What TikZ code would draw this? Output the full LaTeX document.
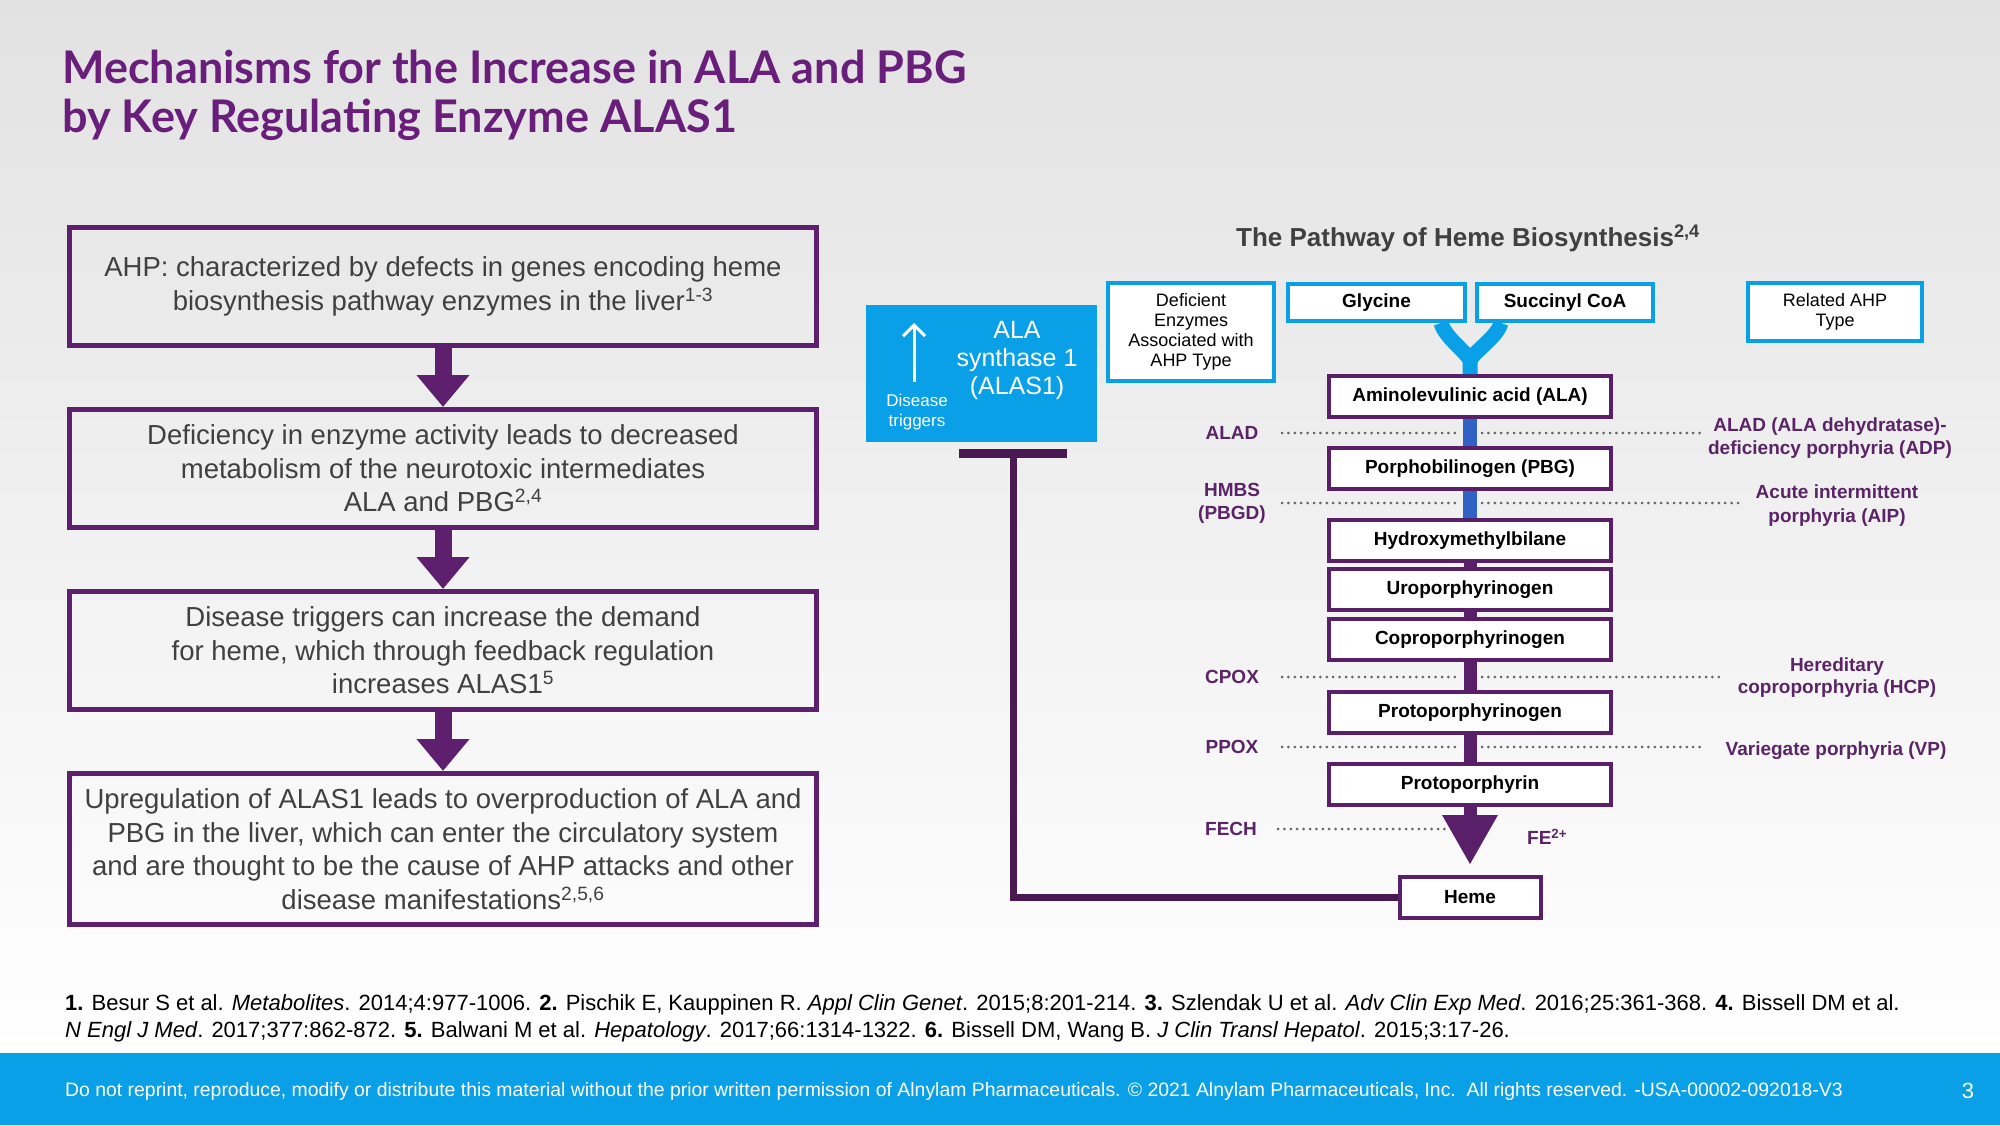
\documentclass[tikz,border=0pt]{standalone}
\usepackage{fontspec}
\setmainfont{Liberation Sans}
\newfontfamily\latofont{Lato}
\usepackage{tikz}
\usetikzlibrary{
  arrows.meta,
  positioning,
  calc
}
\definecolor{hmPurple}{HTML}{5E1F6E}
\definecolor{hmTitle}{HTML}{6A1E7C}
\definecolor{hmLabel}{HTML}{5B2467}
\definecolor{hmBox}{HTML}{5A1F69}
\definecolor{hmDark}{HTML}{4A1852}
\definecolor{hmBlue}{HTML}{0AA0E8}
\definecolor{hmLink}{HTML}{2F62C4}
\definecolor{hmText}{HTML}{404040}
\definecolor{hmDot}{HTML}{666666}
\definecolor{hmBgTop}{HTML}{E2E2E2}
\tikzset{
  titletext/.style={text=hmTitle, font=\latofont\bfseries\fontsize{45}{49}\selectfont, align=left, inner sep=0pt},
  ahpbox/.style={
    draw=hmPurple, line width=5pt, minimum width=747pt, minimum height=118pt,
    align=center, text=hmText, font=\fontsize{27.5}{33.5}\selectfont, inner sep=0pt
  },
  flowarrow/.style={-{Triangle[length=32pt,width=51pt]}, line width=17pt, hmPurple},
  pathbox/.style={
    draw=hmBox, line width=4pt, fill=white, minimum width=282pt, minimum height=41pt,
    font=\bfseries\fontsize{19}{22}\selectfont, inner sep=0pt
  },
  bluebox/.style={draw=hmBlue, line width=4pt, fill=white, align=center, font=\fontsize{18}{20}\selectfont, inner sep=0pt},
  enzlabel/.style={text=hmLabel, font=\bfseries\fontsize{19}{23}\selectfont, align=center, inner sep=0pt},
  typelabel/.style={enzlabel, font=\bfseries\fontsize{19}{23.5}\selectfont},
  dotline/.style={hmDot, line width=3pt, line cap=round, dash pattern=on 0pt off 6.4pt},
  bluelink/.style={hmLink, line width=14pt},
  purplelink/.style={hmBox, line width=13pt},
  hemearrow/.style={purplelink, -{Triangle[length=50pt,width=52pt]}, shorten >=10pt},
  yarm/.style={hmBlue, line width=15pt, line join=round},
  inhibit/.style={hmDark, line width=7pt, -{Rectangle[length=9pt,width=108pt]}},
  uparrow/.style={white, line width=3pt, -{Straight Barb[length=11pt,width=22pt]}},
  reftext/.style={font=\fontsize{22}{27}\selectfont, align=left, inner sep=0pt, anchor=west}
}
\begin{document}
\begin{tikzpicture}[x=1pt, y=-1pt]
  \useasboundingbox (0,0) rectangle (2000,1125);
  % background and footer band
  \shade[top color=hmBgTop, bottom color=white] (0,0) rectangle (2000,1053);
  \fill[hmBlue] (0,1053) rectangle (2000,1125);

  \node[titletext, anchor=west] (title) at (62,95) {Mechanisms for the Increase in ALA and PBG\\by Key Regulating Enzyme ALAS1};

  % left column
  \node[ahpbox] (ahp1) at (443,286.5) {AHP: characterized by defects in genes encoding heme\\biosynthesis pathway enzymes in the liver\textsuperscript{1-3}};
  \node[ahpbox, below=59pt of ahp1] (ahp2) {Deficiency in enzyme activity leads to decreased\\metabolism of the neurotoxic intermediates\\ALA and PBG\textsuperscript{2,4}};
  \node[ahpbox, below=59pt of ahp2] (ahp3) {Disease triggers can increase the demand\\for heme, which through feedback regulation\\increases ALAS1\textsuperscript{5}};
  \node[ahpbox, below=59pt of ahp3, minimum height=151pt] (ahp4) {Upregulation of ALAS1 leads to overproduction of ALA and\\PBG in the liver, which can enter the circulatory system\\and are thought to be the cause of AHP attacks and other\\disease manifestations\textsuperscript{2,5,6}};
  \foreach \s/\e in {ahp1/ahp2, ahp2/ahp3, ahp3/ahp4}{\draw[flowarrow] (\s) -- (\e);}

  % pathway
  \node[font=\bfseries\fontsize{26}{30}\selectfont, text=hmText] (pwtitle) at (1468,238) {The Pathway of Heme Biosynthesis\textsuperscript{2,4}};

  \node[fill=hmBlue, minimum width=231pt, minimum height=137pt] (alas) at (981.5,373.5) {};
  \node[text=white, align=center, font=\fontsize{25}{28}\selectfont, inner sep=0pt] (alastext) at (1017,360) {ALA\\synthase 1\\(ALAS1)};
  \node[text=white, align=center, font=\fontsize{17}{20}\selectfont, inner sep=0pt] (trig) at (917,412) {Disease\\triggers};
  \coordinate (trigtop) at (914,323);
  \draw[uparrow, shorten <=12pt] ([xshift=-3pt]trig.north) -- (trigtop);

  \node[bluebox, minimum width=166pt, minimum height=98pt] (defbox) at (1191,332) {Deficient\\Enzymes\\Associated with\\AHP Type};
  \node[bluebox, minimum width=177pt, minimum height=37pt, font=\bfseries\fontsize{19}{22}\selectfont] (gly) at (1376.5,302.5) {Glycine};
  \node[bluebox, minimum width=176pt, minimum height=37pt, font=\bfseries\fontsize{19}{22}\selectfont] (sucoa) at (1565,302.5) {Succinyl CoA};
  \node[bluebox, minimum width=174pt, minimum height=58pt] (relbox) at (1835,312) {Related AHP\\Type};

  \node[pathbox] (ala) at (1470,396.5) {Aminolevulinic acid (ALA)};
  \node[pathbox, below=27pt of ala] (pbg) {Porphobilinogen (PBG)};
  \node[pathbox, below=27pt of pbg] (hmb) {Hydroxymethylbilane};
  \node[pathbox, below=4pt of hmb] (uro) {Uroporphyrinogen};
  \node[pathbox, below=5pt of uro] (copro) {Coproporphyrinogen};
  \node[pathbox, below=28pt of copro] (protogen) {Protoporphyrinogen};
  \node[pathbox, below=27pt of protogen] (proto) {Protoporphyrin};
  \node[pathbox, below=68pt of proto, minimum width=141pt] (heme) {Heme};

  % substrates join into ALA
  \coordinate (yjoin) at (1470,360);
  \draw[yarm] ([xshift=-26pt]gly.south east) .. controls +(4,14) and +(-6,-10) .. (yjoin) -- (ala.north);
  \draw[yarm] ([xshift=26pt]sucoa.south west) .. controls +(-4,14) and +(6,-10) .. (yjoin);

  \draw[bluelink] (ala) -- (pbg);
  \draw[bluelink] (pbg) -- (hmb);
  \foreach \s/\e in {hmb/uro, uro/copro, copro/protogen, protogen/proto}{\draw[purplelink] (\s) -- (\e);}
  \draw[hemearrow] (proto) -- (heme);

  % enzymes and related AHP types
  \node[enzlabel] (alad) at (1232,433) {ALAD};
  \node[enzlabel] (hmbs) at (1232,503) {HMBS\\(PBGD)};
  \node[enzlabel] (cpox) at (1232,677) {CPOX};
  \node[enzlabel] (ppox) at (1232,747) {PPOX};
  \node[enzlabel] (fech) at (1231,829) {FECH};
  \node[enzlabel, anchor=west] (fe) at (1527,837) {FE\textsuperscript{2+}};

  \node[typelabel] (adp) at (1830,438) {ALAD (ALA dehydratase)-\\deficiency porphyria (ADP)};
  \node[typelabel] (aip) at (1837,505.5) {Acute intermittent\\porphyria (AIP)};
  \node[typelabel, font=\bfseries\fontsize{19}{22}\selectfont] (hcp) at (1837,678) {Hereditary\\coproporphyria (HCP)};
  \node[typelabel] (vp) at (1836,751) {Variegate porphyria (VP)};

  \foreach \n/\r in {alad/1702, hmbs/1742, cpox/1722, ppox/1702}{
    \draw[dotline] (\n.east -| 1282,0) -- (\n.east -| 1459,0);
    \draw[dotline] (\n.east -| 1482,0) -- (\n.east -| \r,0);
  }
  \draw[dotline] (fech.east -| 1278,0) -- (fech.east -| 1446,0);

  % feedback from heme
  \coordinate (tbar) at (1013,449);
  \draw[inhibit] (heme.west) -| (tbar);

  % references and footer
  \node[reftext] (refs) at (65,1018) {\textbf{1.} Besur S et al. \textit{Metabolites}. 2014;4:977-1006. \textbf{2.} Pischik E, Kauppinen R. \textit{Appl Clin Genet}. 2015;8:201-214. \textbf{3.} Szlendak U et al. \textit{Adv Clin Exp Med}. 2016;25:361-368. \textbf{4.} Bissell DM et al.\\\textit{N Engl J Med}. 2017;377:862-872. \textbf{5.} Balwani M et al. \textit{Hepatology}. 2017;66:1314-1322. \textbf{6.} Bissell DM, Wang B. \textit{J Clin Transl Hepatol}. 2015;3:17-26.};
  \node[reftext, text=white, font=\fontsize{19.4}{22}\selectfont] (notice) at (65,1091) {Do not reprint, reproduce, modify or distribute this material without the prior written permission of Alnylam Pharmaceuticals. © 2021 Alnylam Pharmaceuticals, Inc.\ \ All rights reserved. -USA-00002-092018-V3};
  \node[text=white, font=\fontsize{22}{24}\selectfont, inner sep=0pt] (pagenum) at (1968,1091) {3};
\end{tikzpicture}
\end{document}
